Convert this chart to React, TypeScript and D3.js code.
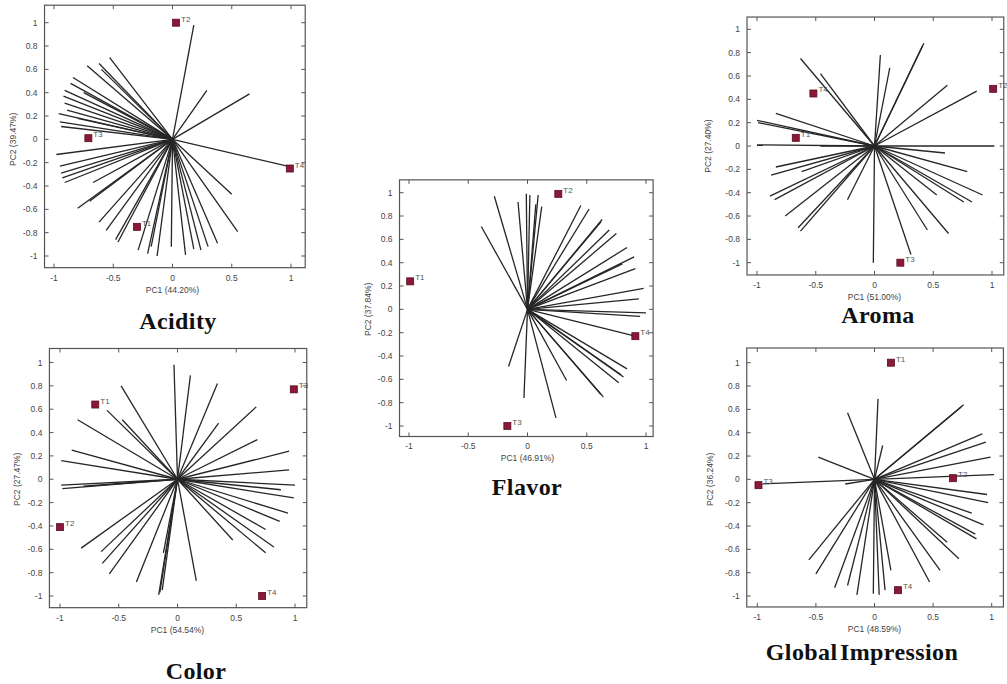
import * as d3 from "d3";

// ---------------- data
type Pt = [number, number];

const acidityLoadings: Pt[] = [
  [0.18, 0.98], [0.29, 0.42], [0.65, 0.39], [0.97, -0.23],
  [-0.53, 0.70], [-0.62, 0.65], [-0.72, 0.63], [-0.60, 0.60], [-0.84, 0.53], [-0.86, 0.48],
  [-0.91, 0.42], [-0.92, 0.37], [-0.91, 0.31], [-0.89, 0.25], [-0.96, 0.22], [-0.95, 0.15],
  [-0.94, 0.11], [-0.75, 0.40], [-0.80, 0.18],
  [-0.98, -0.13], [-0.95, -0.23], [-0.94, -0.29], [-0.93, -0.33], [-0.91, -0.37], [-0.67, -0.37],
  [-0.80, -0.59], [-0.70, -0.53], [-0.62, -0.71], [-0.56, -0.78], [-0.48, -0.86], [-0.46, -0.88],
  [-0.29, -0.95], [-0.21, -0.98], [-0.13, -1.0], [-0.18, -0.92], [-0.01, -0.92], [0.11, -0.99],
  [0.18, -0.94], [0.24, -0.95], [0.30, -0.92], [0.38, -0.89], [0.55, -0.79], [0.50, -0.47],
];
const acidityScores = [
  { label: "T2", x: 0.03, y: 1.0 },
  { label: "T3", x: -0.71, y: 0.01 },
  { label: "T4", x: 0.99, y: -0.25 },
  { label: "T1", x: -0.30, y: -0.75 },
];

const colorLoadings: Pt[] = [
  [-0.03, 0.98], [0.11, 0.89], [0.34, 0.82], [-0.48, 0.80], [-0.60, 0.59], [-0.47, 0.51],
  [-0.85, 0.51], [0.35, 0.48], [0.67, 0.62], [0.68, 0.34], [-0.90, 0.25], [-0.99, 0.16],
  [0.95, 0.24], [0.95, 0.08], [-0.99, -0.05], [-0.98, -0.08], [-0.80, -0.06], [1.0, -0.05],
  [0.88, -0.09], [0.99, -0.16], [0.94, -0.29], [0.87, -0.36], [0.75, -0.43], [0.82, -0.58],
  [0.75, -0.63], [0.47, -0.52], [0.16, -0.87], [-0.12, -0.63], [-0.16, -0.99], [-0.15, -0.97],
  [-0.13, -0.95], [-0.35, -0.88], [-0.58, -0.81], [-0.64, -0.72], [-0.65, -0.62], [-0.82, -0.59],
];
const colorScores = [
  { label: "T1", x: -0.70, y: 0.64 },
  { label: "T3", x: 0.99, y: 0.77 },
  { label: "T2", x: -1.0, y: -0.41 },
  { label: "T4", x: 0.72, y: -1.0 },
];

const flavorLoadings: Pt[] = [
  [-0.39, 0.71], [-0.28, 0.97], [-0.08, 0.92], [-0.01, 0.99], [0.02, 0.98], [0.09, 0.98],
  [0.12, 0.88], [0.07, 0.90], [0.45, 0.89], [0.52, 0.86], [0.63, 0.77], [0.62, 0.75],
  [0.69, 0.68], [0.75, 0.65], [0.84, 0.53], [0.90, 0.45], [0.91, 0.35], [0.80, 0.39],
  [0.98, 0.18], [0.94, 0.09], [1.0, -0.03], [0.95, -0.06], [0.91, -0.23], [0.84, -0.51],
  [0.81, -0.58], [0.79, -0.56], [0.77, -0.63], [0.64, -0.75], [0.62, -0.73], [0.33, -0.61],
  [0.24, -0.93], [-0.03, -0.76], [-0.16, -0.49],
];
const flavorScores = [
  { label: "T2", x: 0.26, y: 0.99 },
  { label: "T1", x: -0.99, y: 0.24 },
  { label: "T4", x: 0.91, y: -0.23 },
  { label: "T3", x: -0.17, y: -1.0 },
];

const aromaLoadings: Pt[] = [
  [-0.63, 0.75], [-0.46, 0.62], [0.42, 0.88], [0.41, 0.86], [0.05, 0.78], [0.13, 0.67],
  [0.62, 0.52], [0.87, 0.47], [-0.84, 0.28], [-1.0, 0.22], [-0.99, 0.20], [-1.0, 0.01],
  [-0.46, 0.0], [1.02, 0.0], [0.60, -0.06], [0.79, -0.22], [0.92, -0.42], [0.83, -0.48],
  [0.76, -0.48], [0.63, -0.75], [0.45, -0.72], [0.31, -0.93], [0.53, -0.42], [-0.01, -1.0],
  [-0.23, -0.46], [-0.63, -0.73], [-0.65, -0.70], [-0.76, -0.60], [-0.89, -0.43],
  [-0.85, -0.46], [-0.84, -0.18], [-0.88, -0.25], [-0.62, -0.22],
];
const aromaScores = [
  { label: "T4", x: -0.52, y: 0.45 },
  { label: "T2", x: 1.01, y: 0.49 },
  { label: "T1", x: -0.67, y: 0.07 },
  { label: "T3", x: 0.22, y: -1.0 },
];

const globalLoadings: Pt[] = [
  [0.03, 0.69], [-0.23, 0.57], [0.07, 0.29], [-0.48, 0.19], [0.76, 0.64], [0.74, 0.62],
  [0.92, 0.39], [0.95, 0.32], [0.99, 0.19], [1.02, 0.04], [-0.99, -0.04], [-0.25, -0.04],
  [0.96, -0.13], [0.97, -0.20], [0.83, -0.29], [0.93, -0.39], [0.86, -0.47], [0.87, -0.51],
  [0.62, -0.54], [0.72, -0.68], [0.56, -0.78], [0.47, -0.88], [0.14, -0.78], [0.09, -0.95],
  [0.04, -0.99], [-0.01, -0.98], [-0.15, -0.99], [-0.23, -0.91], [-0.34, -0.93],
  [-0.50, -0.81], [-0.56, -0.69],
];
const globalScores = [
  { label: "T1", x: 0.14, y: 1.0 },
  { label: "T3", x: -0.99, y: -0.05 },
  { label: "T2", x: 0.67, y: 0.01 },
  { label: "T4", x: 0.20, y: -0.95 },
];

const xTicks = [-1, -0.5, 0, 0.5, 1];
const yTicks = [-1, -0.8, -0.6, -0.4, -0.2, 0, 0.2, 0.4, 0.6, 0.8, 1];

// ---------------- layout (pixel positions of -1 and +1 on each axis)
const panels = [
  {
    title: "Acidity", xLabel: "PC1 (44.20%)", yLabel: "PC2 (39.47%)",
    loadings: acidityLoadings, scores: acidityScores,
    xr: [54, 291], yr: [256, 22.7], xd: [-1.08, 1.12], yd: [-1.1, 1.15],
    titlePos: [178, 329], yLabelX: 13,
  },
  {
    title: "Color", xLabel: "PC1 (54.54%)", yLabel: "PC2 (27.47%)",
    loadings: colorLoadings, scores: colorScores,
    xr: [60, 295], yr: [596, 362.5], xd: [-1.09, 1.1], yd: [-1.1, 1.12],
    titlePos: [196, 679], yLabelX: 17,
  },
  {
    title: "Flavor", xLabel: "PC1 (46.91%)", yLabel: "PC2 (37.84%)",
    loadings: flavorLoadings, scores: flavorScores,
    xr: [409, 646], yr: [426, 192.7], xd: [-1.08, 1.06], yd: [-1.09, 1.11],
    titlePos: [527, 495], yLabelX: 368,
  },
  {
    title: "Aroma", xLabel: "PC1 (51.00%)", yLabel: "PC2 (27.40%)",
    loadings: aromaLoadings, scores: aromaScores,
    xr: [757, 992], yr: [262.7, 29.3], xd: [-1.085, 1.1], yd: [-1.105, 1.105],
    titlePos: [878, 323], yLabelX: 708,
  },
  {
    title: "Global Impression", xLabel: "PC1 (48.59%)", yLabel: "PC2 (36.24%)",
    loadings: globalLoadings, scores: globalScores,
    xr: [757.3, 991.7], yr: [596, 362.7], xd: [-1.09, 1.1], yd: [-1.094, 1.126],
    titlePos: [862, 660], yLabelX: 710,
  },
];

const sans = "'Liberation Sans', Arial, sans-serif";
const serif = "'Liberation Serif', 'Times New Roman', serif";
const fmt = (v: number) => (Math.abs(v) < 1e-9 ? "0" : String(+v.toFixed(1)));

const Biplot = ({ p }: { p: (typeof panels)[number] }) => {
  const x = d3.scaleLinear().domain([-1, 1]).range(p.xr);
  const y = d3.scaleLinear().domain([-1, 1]).range(p.yr);
  const left = x(p.xd[0]), right = x(p.xd[1]);
  const top = y(p.yd[1]), bottom = y(p.yd[0]);
  const tk = 4;
  return (
    <g>
      <rect x={left} y={top} width={right - left} height={bottom - top}
        fill="#fff" stroke="#555" strokeWidth={1.2} />
      {xTicks.map(t => (
        <g key={"x" + t}>
          <line x1={x(t)} x2={x(t)} y1={bottom} y2={bottom - tk} stroke="#555" />
          <line x1={x(t)} x2={x(t)} y1={top} y2={top + tk} stroke="#555" />
          <text x={x(t)} y={bottom + 13} textAnchor="middle" fontSize={8.5}
            fontFamily={sans} fill="#444">{fmt(t)}</text>
        </g>
      ))}
      {yTicks.map(t => (
        <g key={"y" + t}>
          <line x1={left} x2={left + tk} y1={y(t)} y2={y(t)} stroke="#555" />
          <line x1={right} x2={right - tk} y1={y(t)} y2={y(t)} stroke="#555" />
          <text x={left - 7} y={y(t) + 3} textAnchor="end" fontSize={8.5}
            fontFamily={sans} fill="#444">{fmt(t)}</text>
        </g>
      ))}
      <text x={x(0)} y={bottom + 25} textAnchor="middle" fontSize={8.5}
        fontFamily={sans} fill="#444">{p.xLabel}</text>
      <text transform={`translate(${p.yLabelX},${y(0)}) rotate(-90)`} textAnchor="middle"
        dy="0.35em" fontSize={8.5} fontFamily={sans} fill="#444">{p.yLabel}</text>
      {p.loadings.map((d, i) => (
        <line key={i} x1={x(0)} y1={y(0)} x2={x(d[0])} y2={y(d[1])}
          stroke="#262626" strokeWidth={1.3} />
      ))}
      {p.scores.map(s => (
        <g key={s.label}>
          <rect x={x(s.x) - 3.5} y={y(s.y) - 3.5} width={7} height={7}
            fill="#8a1838" stroke="#5a0c22" strokeWidth={0.8} />
          <text x={x(s.x) + 5} y={y(s.y) - 1} fontSize={8} fontFamily={sans}
            fill="#555">{s.label}</text>
        </g>
      ))}
      <text x={p.titlePos[0]} y={p.titlePos[1]} textAnchor="middle" fontSize={24}
        fontWeight="bold" fontFamily={serif} fill="#111" letterSpacing={0.4}
        wordSpacing={-4}>{p.title}</text>
    </g>
  );
};

export default function App() {
  return (
    <svg width={1007} height={684} style={{ position: "absolute", left: 0, top: 0, background: "#fff" }}>
      {panels.map(p => <Biplot key={p.title} p={p} />)}
    </svg>
  );
}
